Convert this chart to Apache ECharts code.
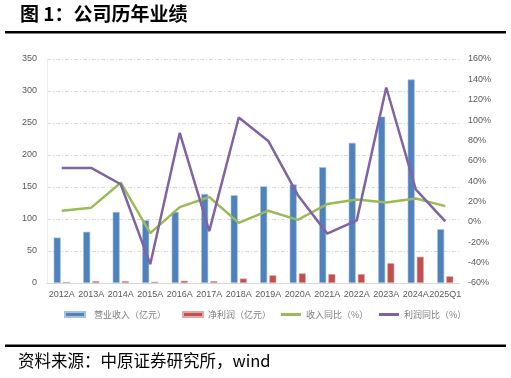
<!DOCTYPE html>
<html>
<head>
<meta charset="utf-8">
<script src="https://cdn.jsdelivr.net/npm/echarts@6/dist/echarts.min.js"></script>
<style>
html,body{margin:0;padding:0;background:#fff;}
#c{width:511px;height:378px;}
</style>
</head>
<body>
<div id="c"></div>
<script>
const categories = ['2012A','2013A','2014A','2015A','2016A','2017A','2018A','2019A','2020A','2021A','2022A','2023A','2024A','2025Q1'];
const revenue = [71, 80, 111, 98, 111, 139, 137, 151, 154, 181, 219, 260, 318, 84];
const netProfit = [1.5, 3, 3, 2, 3.5, 3, 7, 12, 15, 14, 14, 31, 41, 10.5];
const revenueYoY = [11, 14, 38.5, -11, 14.5, 24.5, -1, 11, 2, 17.5, 22, 19, 23, 15.5];
const profitYoY = [53, 53, 37, -41.5, 87.5, -9, 102.5, 79.5, 26.5, -11.5, 1.5, 132, 32, 0.5];
const seriesNames = ['营业收入（亿元）','净利润（亿元）','收入同比（%）','利润同比（%）'];
const leftTicks = {min: 0, max: 350, interval: 50};
const rightTicks = {min: -60, max: 160, interval: 20};

const cjk = '"Noto Sans CJK SC", "Liberation Sans", sans-serif';
const chart = echarts.init(document.getElementById('c'), null, {renderer: 'canvas'});
const gridLine = {show: true, lineStyle: {color: '#d9d9d9', type: [4, 2, 1, 2], width: 1}};
const lbl = {color: '#595959', fontSize: 9, fontFamily: 'Liberation Sans, Arial, sans-serif'};
const legendBase = {top: 305, itemHeight: 4, itemWidth: 20, icon: 'rect', textStyle: {color: '#7f7f7f', fontSize: 9, fontFamily: cjk}, itemGap: 0};

chart.setOption({
  animation: false,
  backgroundColor: '#fff',
  grid: {left: 47, right: 51, top: 59, bottom: 95},
  legend: [
    Object.assign({}, legendBase, {left: 59, data: [seriesNames[0]], itemHeight: 5, textStyle: Object.assign({}, legendBase.textStyle, {padding: [0,0,0,4]})}),
    Object.assign({}, legendBase, {left: 177, data: [seriesNames[1]], itemHeight: 5}),
    Object.assign({}, legendBase, {left: 276, data: [seriesNames[2]], itemHeight: 3}),
    Object.assign({}, legendBase, {left: 374, data: [seriesNames[3]], itemHeight: 3})
  ],
  xAxis: {
    type: 'category', data: categories,
    axisLine: {lineStyle: {color: '#d9d9d9', width: 1}},
    axisTick: {show: false},
    axisLabel: Object.assign({}, lbl, {margin: 7, interval: 0})
  },
  yAxis: [
    {type: 'value', min: leftTicks.min, max: leftTicks.max, interval: leftTicks.interval,
     axisLine: {show: true, lineStyle: {color: '#eeeee4'}}, axisTick: {show: false},
     axisLabel: Object.assign({}, lbl, {margin: 10}), splitLine: gridLine},
    {type: 'value', min: rightTicks.min, max: rightTicks.max, interval: rightTicks.interval,
     axisLine: {show: false}, axisTick: {show: false},
     axisLabel: Object.assign({}, lbl, {margin: 8, formatter: '{value}%'}), splitLine: {show: false}}
  ],
  series: [
    {name: seriesNames[0], type: 'bar', data: revenue, barWidth: 7, barGap: '30%',
     itemStyle: {color: '#4f81bd', borderColor: '#a9c1e0', borderWidth: 0.6}},
    {name: seriesNames[1], type: 'bar', data: netProfit, barWidth: 7,
     itemStyle: {color: '#c0504d', borderColor: '#e2a9a7', borderWidth: 0.6}},
    {name: seriesNames[2], type: 'line', yAxisIndex: 1, data: revenueYoY, symbol: 'none',
     lineStyle: {color: '#9bbb59', width: 2.5}, itemStyle: {color: '#9bbb59'}},
    {name: seriesNames[3], type: 'line', yAxisIndex: 1, data: profitYoY, symbol: 'none',
     lineStyle: {color: '#8064a2', width: 2.5}, itemStyle: {color: '#8064a2'}}
  ],
  graphic: [
    {type: 'text', left: 20, top: 4, style: {text: '图 1：公司历年业绩', font: 'bold 19px ' + cjk, fill: '#000'}},
    {type: 'rect', shape: {x: 5, y: 31, width: 501, height: 2.5}, style: {fill: '#000'}},
    {type: 'rect', shape: {x: 5, y: 344.5, width: 501, height: 2.5}, style: {fill: '#000'}},
    {type: 'text', left: 18, top: 352, style: {text: '资料来源：中原证券研究所，wind', font: '16.5px ' + cjk, fill: '#000'}}
  ]
});
</script>
</body>
</html>
